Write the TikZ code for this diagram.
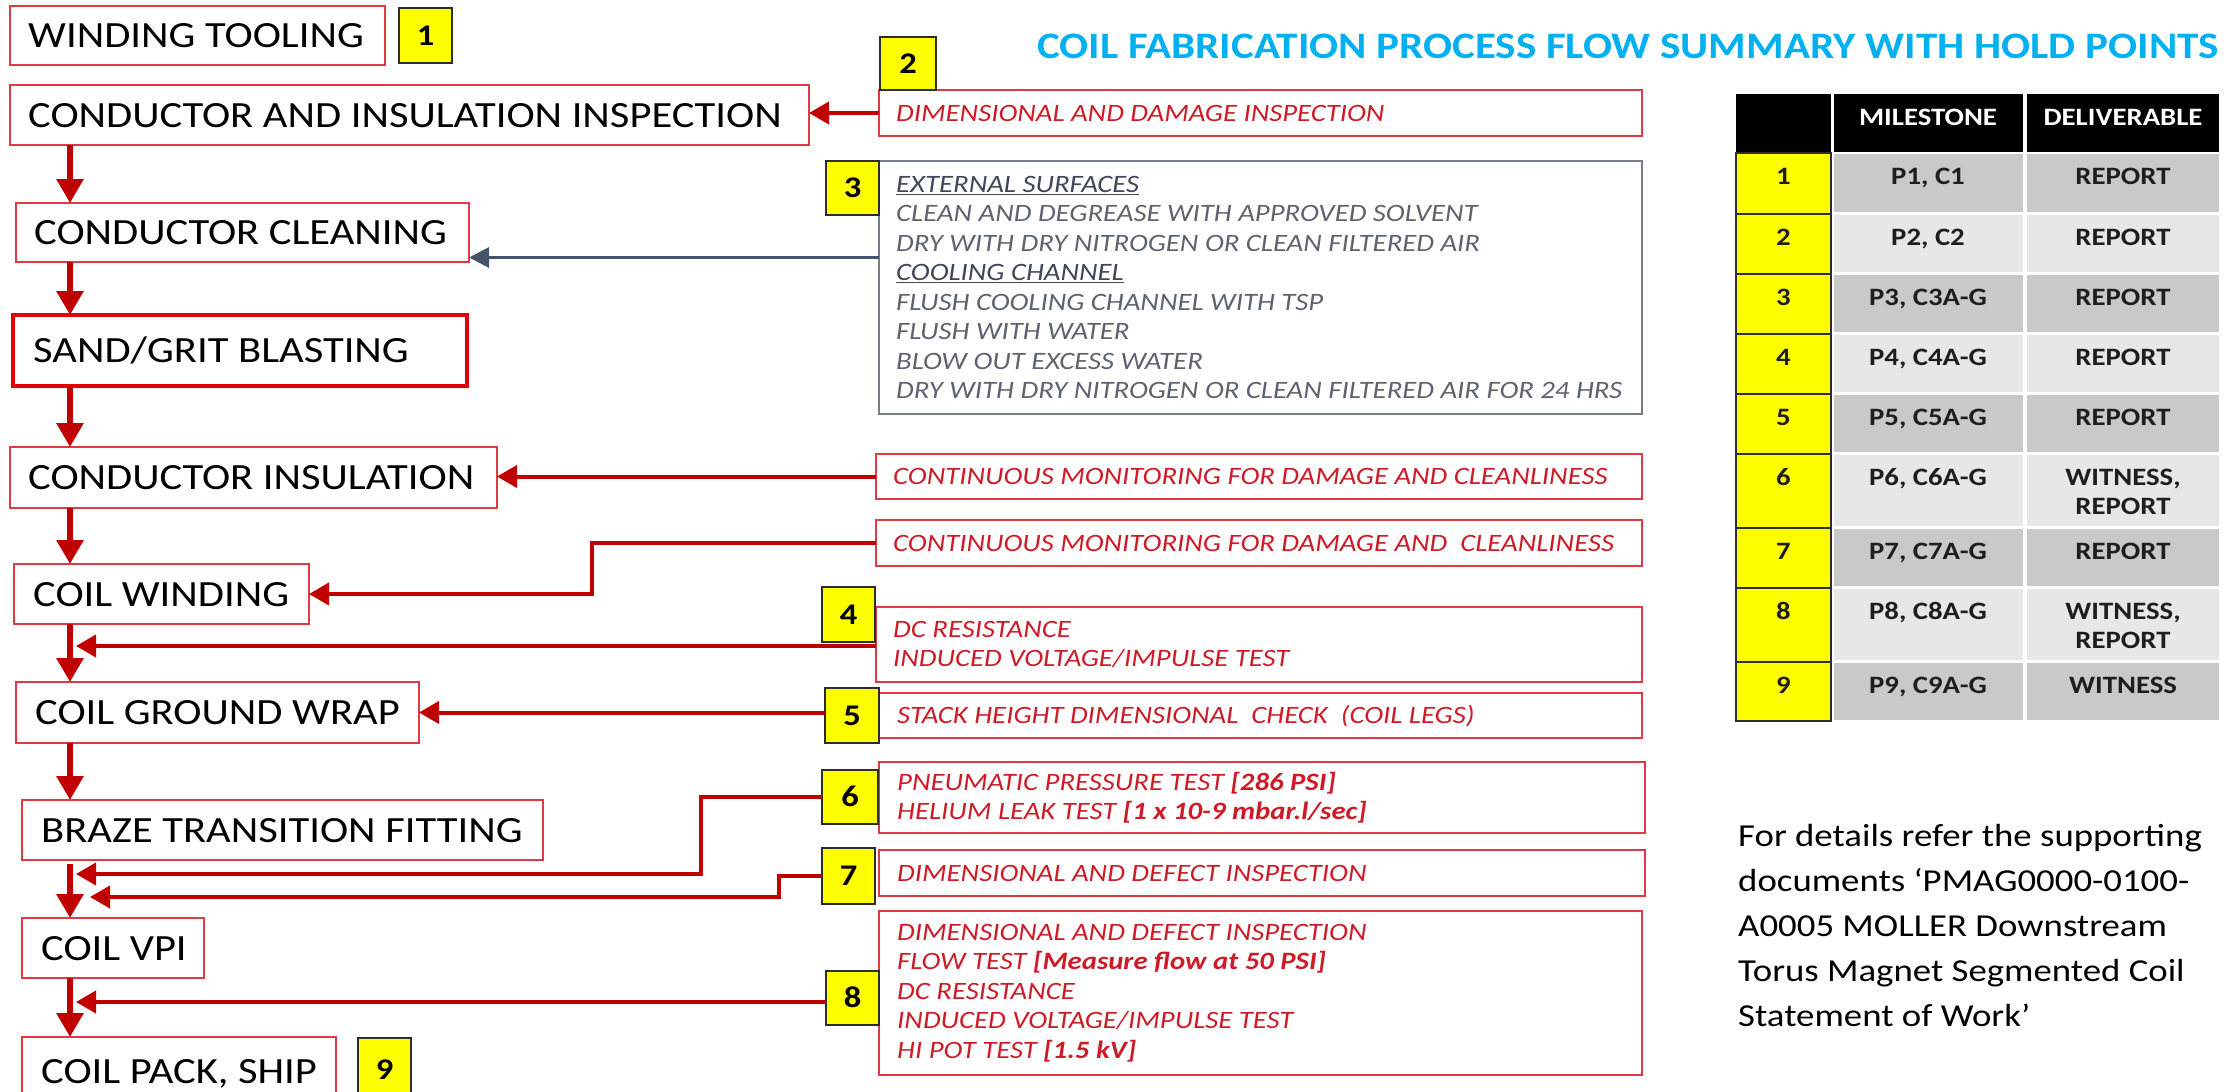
\documentclass[tikz,border=0pt]{standalone}
\usepackage{fontspec}
\setmainfont{Carlito}[FakeStretch=1.15]
\usetikzlibrary{arrows.meta}
\definecolor{boxred}{RGB}{222,58,68}
\definecolor{sgbred}{RGB}{228,0,10}
\definecolor{txtred}{RGB}{205,28,40}
\definecolor{arrred}{RGB}{192,0,0}
\definecolor{slate}{RGB}{68,84,106}
\definecolor{greyedge}{RGB}{118,126,138}
\definecolor{greytxt}{RGB}{92,100,112}
\definecolor{greyhead}{RGB}{62,72,88}
\definecolor{titlecyan}{RGB}{0,176,240}
\definecolor{darkcell}{RGB}{201,201,201}
\definecolor{lightcell}{RGB}{231,231,231}
\definecolor{badgeedge}{RGB}{45,45,45}
\definecolor{celltxt}{RGB}{30,30,30}
\definecolor{hiyellow}{RGB}{255,255,0}
\newcommand\trow[6]{% idx, yellow top, yellow height, cell top, cell height, fill
  \node[ycell, minimum height=#3pt] (y#1) at (1736,#2) {};
  \node[gcell, fill=#6, minimum width=189pt, minimum height=#5pt] (m#1) at (1834,#4) {};
  \node[gcell, fill=#6, minimum width=192pt, minimum height=#5pt] (d#1) at (2027,#4) {};
  \node[celltext] (yt#1) at (1783.5,#4+30) {#1};
}
\begin{document}
\begin{tikzpicture}[x=1pt,y=-1pt,
  procbox/.style={draw=boxred, line width=2.5pt, fill=white, anchor=north west, outer sep=0pt, inner sep=0pt},
  proctext/.style={anchor=west, inner sep=0pt, font=\fontsize{37}{40}\selectfont, text=black, text height=24pt, text depth=0pt},
  notebox/.style={draw=boxred, line width=2.5pt, fill=white, anchor=north west, outer sep=0pt, inner sep=0pt},
  notetext/.style={anchor=west, inner sep=0pt, align=left, font=\fontsize{25}{29.5}\selectfont\itshape, text=txtred},
  one/.style={text height=16pt, text depth=0pt},
  badge/.style={draw=badgeedge, line width=2pt, fill=hiyellow, anchor=north west, outer sep=0pt, inner sep=0pt, font=\fontsize{30}{30}\selectfont\bfseries, text=black, text height=19pt, text depth=0pt},
  flow/.style={draw=arrred, line width=6pt, -{Triangle[length=24pt,width=26pt]}},
  feed/.style={draw=arrred, line width=4pt, -{Triangle[length=20pt,width=22pt]}},
  bluefeed/.style={draw=slate, line width=3pt, -{Triangle[length=20pt,width=20pt]}},
  ycell/.style={draw=badgeedge, line width=2pt, fill=hiyellow, anchor=north west, outer sep=0pt, inner sep=0pt, minimum width=95pt},
  gcell/.style={anchor=north west, outer sep=0pt, inner sep=0pt},
  hcell/.style={fill=black, anchor=north west, outer sep=0pt, inner sep=0pt, minimum height=58pt},
  celltext/.style={anchor=base, inner sep=0pt, font=\fontsize{25}{30}\selectfont\bfseries, text=celltxt},
  headtext/.style={anchor=base, inner sep=0pt, font=\fontsize{25}{30}\selectfont\bfseries, text=white},
  sidetext/.style={anchor=base west, inner sep=0pt, font=\fontsize{32}{45}\selectfont, text=black}
]
\useasboundingbox (0,0) rectangle (2238,1092);
\clip (0,0) rectangle (2238,1092);

% ---------------- process boxes ----------------
\node[procbox, minimum width=375pt, minimum height=59pt] (wt) at (10,6) {};
\node[proctext] (wtt) at ([xshift=18pt]wt.west) {WINDING TOOLING};
\node[procbox, minimum width=799pt, minimum height=60pt] (cai) at (10,85) {};
\node[proctext] (caitx) at ([xshift=18pt]cai.west) {CONDUCTOR AND INSULATION INSPECTION};
\node[procbox, minimum width=453pt, minimum height=59pt] (cc) at (16,203) {};
\node[proctext] (cctx) at ([xshift=18pt]cc.west) {CONDUCTOR CLEANING};
\node[procbox, draw=sgbred, line width=4pt, minimum width=454pt, minimum height=71pt] (sgb) at (13,315) {};
\node[proctext] (sgbtx) at ([xshift=20pt]sgb.west) {SAND/GRIT BLASTING};
\node[procbox, minimum width=487pt, minimum height=61pt] (ci) at (10,447) {};
\node[proctext] (citx) at ([xshift=18pt]ci.west) {CONDUCTOR INSULATION};
\node[procbox, minimum width=295pt, minimum height=60pt] (cw) at (14,564) {};
\node[proctext] (cwtx) at ([xshift=19pt]cw.west) {COIL WINDING};
\node[procbox, minimum width=403pt, minimum height=61pt] (cgw) at (16,682) {};
\node[proctext] (cgwtx) at ([xshift=19pt]cgw.west) {COIL GROUND WRAP};
\node[procbox, minimum width=521pt, minimum height=60pt] (btf) at (22,800) {};
\node[proctext] (btftx) at ([xshift=19pt]btf.west) {BRAZE TRANSITION FITTING};
\node[procbox, minimum width=182pt, minimum height=60pt] (vpi) at (22,918) {};
\node[proctext] (vpitx) at ([xshift=19pt]vpi.west) {COIL VPI};
\node[procbox, minimum width=314pt, minimum height=68pt] (pack) at (22,1037) {};
\node[proctext] (packtx) at ([xshift=19pt]pack.west) {COIL PACK, SHIP};

% ---------------- note boxes ----------------
\node[notebox, minimum width=763pt, minimum height=46pt] (r2) at (879,90) {};
\node[notetext, one] (r2tx) at ([xshift=17pt]r2.west) {DIMENSIONAL AND DAMAGE INSPECTION};
\node[notebox, draw=greyedge, line width=2pt, minimum width=763pt, minimum height=253pt] (r3) at (879,161) {};
\node[notetext, text=greytxt] (r3tx) at ([xshift=17pt]r3.west) {\textcolor{greyhead}{\underline{EXTERNAL SURFACES}}\\CLEAN AND DEGREASE WITH APPROVED SOLVENT\\DRY WITH DRY NITROGEN OR CLEAN FILTERED AIR\\\textcolor{greyhead}{\underline{COOLING CHANNEL}}\\FLUSH COOLING CHANNEL WITH TSP\\FLUSH WITH WATER\\BLOW OUT EXCESS WATER\\DRY WITH DRY NITROGEN OR CLEAN FILTERED AIR FOR 24 HRS};
\node[notebox, minimum width=766pt, minimum height=45pt] (cm1) at (876,454) {};
\node[notetext, one] (cm1tx) at ([xshift=17pt]cm1.west) {CONTINUOUS MONITORING FOR DAMAGE AND CLEANLINESS};
\node[notebox, minimum width=766pt, minimum height=46pt] (cm2) at (876,520) {};
\node[notetext, one] (cm2tx) at ([xshift=17pt]cm2.west) {CONTINUOUS MONITORING FOR DAMAGE AND\ \ CLEANLINESS};
\node[notebox, minimum width=766pt, minimum height=75pt] (r4) at (876,607) {};
\node[notetext] (r4tx) at ([xshift=17pt]r4.west) {DC RESISTANCE\\INDUCED VOLTAGE/IMPULSE TEST};
\node[notebox, minimum width=763pt, minimum height=45pt] (r5) at (879,693) {};
\node[notetext, one] (r5tx) at ([xshift=18pt]r5.west) {STACK HEIGHT DIMENSIONAL\ \ CHECK\ \ (COIL LEGS)};
\node[notebox, minimum width=766pt, minimum height=71pt] (r6) at (879,762) {};
\node[notetext] (r6tx) at ([xshift=18pt]r6.west) {PNEUMATIC PRESSURE TEST \textbf{[286 PSI]}\\HELIUM LEAK TEST \textbf{[1 x 10-9 mbar.l/sec]}};
\node[notebox, minimum width=766pt, minimum height=46pt] (r7) at (879,850) {};
\node[notetext, one] (r7tx) at ([xshift=18pt]r7.west) {DIMENSIONAL AND DEFECT INSPECTION};
\node[notebox, minimum width=763pt, minimum height=164pt] (r8) at (879,911) {};
\node[notetext] (r8tx) at ([xshift=18pt]r8.west) {DIMENSIONAL AND DEFECT INSPECTION\\FLOW TEST \textbf{[Measure flow at 50 PSI]}\\DC RESISTANCE\\INDUCED VOLTAGE/IMPULSE TEST\\HI POT TEST \textbf{[1.5 kV]}};

% ---------------- badges ----------------
\node[badge, minimum width=53pt, minimum height=55pt] (b1) at (399,8) {1};
\node[badge, minimum width=56pt, minimum height=53pt] (b2) at (880,37) {2};
\node[badge, minimum width=53pt, minimum height=54pt] (b3) at (826,161) {3};
\node[badge, minimum width=53pt, minimum height=55pt] (b4) at (822,587) {4};
\node[badge, minimum width=54pt, minimum height=55pt] (b5) at (825,688) {5};
\node[badge, minimum width=56pt, minimum height=54pt] (b6) at (822,770) {6};
\node[badge, minimum width=53pt, minimum height=56pt] (b7) at (822,848) {7};
\node[badge, minimum width=53pt, minimum height=54pt] (b8) at (826,971) {8};
\node[badge, minimum width=53pt, minimum height=64pt] (b9) at (358,1038) {9};

% ---------------- main flow ----------------
\coordinate (spine) at (70,0);
\draw[flow] (cai.south -| spine) -- (cc.north -| spine);
\draw[flow] (cc.south -| spine) -- (sgb.north -| spine);
\draw[flow] (sgb.south -| spine) -- (ci.north -| spine);
\draw[flow] (ci.south -| spine) -- (cw.north -| spine);
\draw[flow] (cw.south -| spine) -- (cgw.north -| spine);
\draw[flow] (cgw.south -| spine) -- (btf.north -| spine);
\draw[flow] ([yshift=-4pt]btf.south -| spine) -- (vpi.north -| spine);
\draw[flow] (vpi.south -| spine) -- (pack.north -| spine);

% ---------------- feeds ----------------
\draw[feed] (r2.west) -- (r2.west -| cai.east);
\draw[bluefeed] ([yshift=30pt]r3.west) -- ([yshift=30pt]r3.west -| cc.east);
\draw[feed] (cm1.west) -- (cm1.west -| ci.east);
\draw[feed] (cm2.west) -- ++(-284,0) |- (cw.east);
\coordinate (e4) at (76,646);
\draw[feed] (e4 -| r4.west) -- (e4);
\draw[feed] (cgw.east -| b5.west) -- (cgw.east);
\coordinate (e6) at (76,874);
\draw[feed] (b6.west) -- ++(-121,0) |- (e6);
\coordinate (e7) at (90,897);
\draw[feed] (b7.west) -- ++(-43,0) |- (e7);
\coordinate (e8) at (76,1002);
\draw[feed] (e8 -| b8.west) -- (e8);

% ---------------- title ----------------
\node[anchor=base west, inner sep=0pt, font=\fontsize{37.4}{40}\selectfont\bfseries, text=titlecyan] (title) at (1037,58) {COIL FABRICATION PROCESS FLOW SUMMARY WITH HOLD POINTS};

% ---------------- table ----------------
\node[hcell, minimum width=95pt] (h0) at (1736,94) {};
\node[hcell, minimum width=189pt] (h1) at (1834,94) {};
\node[hcell, minimum width=192pt] (h2) at (2027,94) {};
\node[headtext] (h1tx) at (1928,125) {MILESTONE};
\node[headtext] (h2tx) at (2123,125) {DELIVERABLE};
\trow{1}{153}{61}{154}{58}{darkcell}
\trow{2}{214}{60}{215}{57}{lightcell}
\trow{3}{274}{60}{275}{57}{darkcell}
\trow{4}{334}{60}{335}{57}{lightcell}
\trow{5}{394}{60}{395}{57}{darkcell}
\trow{6}{454}{74}{455}{71}{lightcell}
\trow{7}{528}{60}{529}{57}{darkcell}
\trow{8}{588}{74}{589}{71}{lightcell}
\trow{9}{662}{59}{663}{57}{darkcell}
\node[celltext] (mt1) at (1928,184) {P1, C1};
\node[celltext] (mt2) at (1928,245) {P2, C2};
\node[celltext] (mt3) at (1928,305) {P3, C3A-G};
\node[celltext] (mt4) at (1928,365) {P4, C4A-G};
\node[celltext] (mt5) at (1928,425) {P5, C5A-G};
\node[celltext] (mt6) at (1928,485) {P6, C6A-G};
\node[celltext] (mt7) at (1928,559) {P7, C7A-G};
\node[celltext] (mt8) at (1928,619) {P8, C8A-G};
\node[celltext] (mt9) at (1928,693) {P9, C9A-G};
\node[celltext] (dt1) at (2123,184) {REPORT};
\node[celltext] (dt2) at (2123,245) {REPORT};
\node[celltext] (dt3) at (2123,305) {REPORT};
\node[celltext] (dt4) at (2123,365) {REPORT};
\node[celltext] (dt5) at (2123,425) {REPORT};
\node[celltext] (dt6) at (2123,485) {WITNESS,};
\node[celltext] (dt6b) at (2123,514) {REPORT};
\node[celltext] (dt7) at (2123,559) {REPORT};
\node[celltext] (dt8) at (2123,619) {WITNESS,};
\node[celltext] (dt8b) at (2123,648) {REPORT};
\node[celltext] (dt9) at (2123,693) {WITNESS};

% ---------------- side note ----------------
\node[sidetext] (s1) at (1738,846) {For details refer the supporting};
\node[sidetext] (s2) at (1738,891) {documents ‘PMAG0000-0100-};
\node[sidetext] (s3) at (1738,936) {A0005 MOLLER Downstream};
\node[sidetext] (s4) at (1738,981) {Torus Magnet Segmented Coil};
\node[sidetext] (s5) at (1738,1026) {Statement of Work’};
\end{tikzpicture}
\end{document}
